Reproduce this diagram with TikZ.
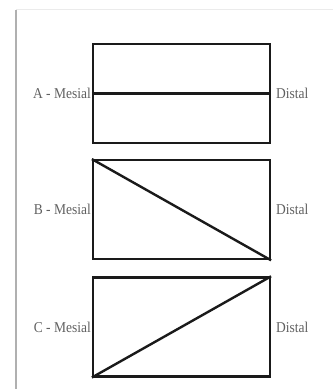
\documentclass[tikz,border=0pt]{standalone}
\usepackage{fontspec}
\setmainfont{Liberation Serif}
\usetikzlibrary{positioning}
\definecolor{boxline}{HTML}{1A1A1A}
\definecolor{labelgray}{HTML}{606060}
\definecolor{edgegray}{HTML}{B0B0B0}
\definecolor{edgelight}{HTML}{EBEBEB}

\begin{document}
\begin{tikzpicture}[
  x=1pt,y=-1pt,
  node distance=15pt and 0pt,
  tooth/.style={draw=boxline,line width=2.2pt,minimum width=177pt,minimum height=99pt,inner sep=0pt},
  side/.style={text=labelgray,font=\fontsize{15}{16}\selectfont,inner sep=1pt,xscale=0.9},
  split/.style={draw=boxline,line width=2.4pt}
]
\useasboundingbox (0,0) rectangle (333,389);
% page edge
\draw[edgelight,line width=1.5pt] (16,9.5) -- (333,9.5);
\draw[edgegray,line width=2.2pt] (16,9.5) -- (16,389);

\node[tooth] (toothA) at (181.5,93.5) {};
\node[tooth,below=of toothA] (toothB) {};
\node[tooth,below=16pt of toothB] (toothC) {};

\node[side,anchor=east] (mesialA) at (toothA.west) {A - Mesial};
\node[side,anchor=east] (mesialB) at (toothB.west) {B - Mesial};
\node[side,anchor=east] (mesialC) at (toothC.west) {C - Mesial};
\node[side,right=4pt of toothA.east] (distalA) {Distal};
\node[side,right=4pt of toothB.east] (distalB) {Distal};
\node[side,right=4pt of toothC.east] (distalC) {Distal};

\draw[split] (toothA.west) -- (toothA.east);
\draw[split] (toothB.north west) -- (toothB.south east);
\draw[split] (toothC.south west) -- (toothC.north east);
\end{tikzpicture}
\end{document}
